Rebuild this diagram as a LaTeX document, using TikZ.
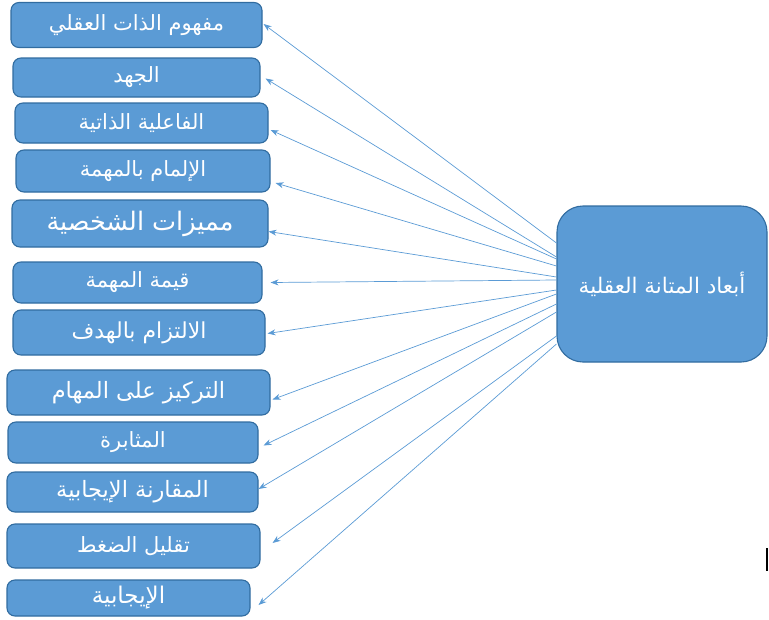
\documentclass[tikz,border=0pt]{standalone}
\usepackage{fontspec}
\newfontfamily\arabicfont[Script=Arabic]{DejaVu Sans}
\TeXXeTstate=1
\usetikzlibrary{arrows.meta}
\definecolor{boxblue}{RGB}{91,155,213}
\definecolor{edgeblue}{RGB}{49,108,160}
\tikzset{
  dimbox/.style={draw=edgeblue, line width=1.1pt, fill=boxblue, rounded corners=8pt,
    text=white, font=\arabicfont\fontsize{21}{24}\selectfont, inner sep=0pt},
  mainbox/.style={dimbox, rounded corners=26pt, minimum width=210pt, minimum height=156pt},
  link/.style={draw=boxblue, line width=0.7pt, -{Stealth[length=8pt,width=6pt]}}
}
\newcommand{\ar}[1]{\beginR #1\endR}

\begin{document}
\begin{tikzpicture}[x=1pt,y=-1pt]
  \useasboundingbox (0,0) rectangle (769,619);

  % the main dimension
  \node [mainbox, font=\arabicfont\fontsize{21.5}{24}\selectfont] (main) at (662,284) {\ar{أبعاد المتانة العقلية}};

  % the twelve sub-dimensions
  \node [dimbox, minimum width=251pt, minimum height=45pt] (d1) at (136.5,25) {\ar{مفهوم الذات العقلي}};
  \node [dimbox, minimum width=247pt, minimum height=39pt] (d2) at (136.5,77.5) {\ar{الجهد}};
  \node [dimbox, minimum width=253pt, minimum height=40pt] (d3) at (141.5,123) {\ar{الفاعلية الذاتية}};
  \node [dimbox, minimum width=254pt, minimum height=42pt] (d4) at (143,171) {\ar{الإلمام بالمهمة}};
  \node [dimbox, minimum width=256pt, minimum height=47pt, font=\arabicfont\fontsize{25.5}{28}\selectfont] (d5) at (140,223.5) {\ar{مميزات الشخصية}};
  \node [dimbox, minimum width=249pt, minimum height=41pt] (d6) at (137.5,282.5) {\ar{قيمة المهمة}};
  \node [dimbox, minimum width=252pt, minimum height=45pt, font=\arabicfont\fontsize{22}{24}\selectfont] (d7) at (139,332.5) {\ar{الالتزام بالهدف}};
  \node [dimbox, minimum width=263pt, minimum height=45pt, font=\arabicfont\fontsize{22.5}{24}\selectfont] (d8) at (138.5,392.5) {\ar{التركيز على المهام}};
  \node [dimbox, minimum width=250pt, minimum height=41pt] (d9) at (133,442.5) {\ar{المثابرة}};
  \node [dimbox, minimum width=251pt, minimum height=40pt, font=\arabicfont\fontsize{22.5}{24}\selectfont] (d10) at (132.5,492) {\ar{المقارنة الإيجابية}};
  \node [dimbox, minimum width=253pt, minimum height=44pt] (d11) at (133.5,546) {\ar{تقليل الضغط}};
  \node [dimbox, minimum width=243pt, minimum height=36pt, font=\arabicfont\fontsize{23}{24}\selectfont] (d12) at (128.5,598) {\ar{الإيجابية}};

  % arrows from the main box to each sub-dimension
  \foreach \i/\y/\gx/\gy in {1/-41/1/-1, 2/-27/5/1, 3/-25/2/7, 4/-18/5/12, 5/-7/0/8,
      6/-4/8/0, 7/6/2/1, 8/10/2/7, 9/20/5/3, 10/28/0/-3, 11/52/12/-3, 12/60/8/7}
    \draw [link] ([shift={(0,\y)}]main.west) -- ([shift={(\gx,\gy)}]d\i.east);

  % cut-off character at the right edge
  \fill (765.5,548) rectangle (767.5,571);

\end{tikzpicture}
\end{document}
